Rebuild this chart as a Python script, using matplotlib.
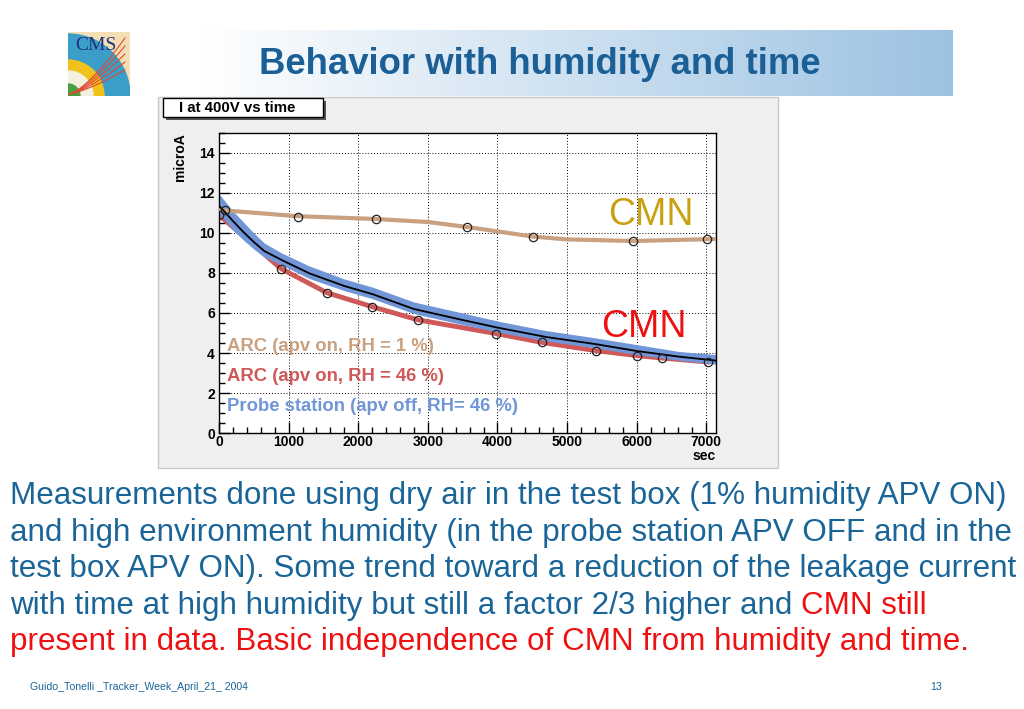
import matplotlib
matplotlib.use('Agg')
import matplotlib.pyplot as plt
import numpy as np
from matplotlib.patches import Rectangle, Wedge

plt.rcParams['font.family'] = ['Liberation Sans', 'DejaVu Sans']

W, H = 1024, 709

# --- data ---
tan_x = [82, 1135, 2251, 3567, 4515, 5947, 7012]
tan_y = [11.15, 10.8, 10.7, 10.32, 9.81, 9.6, 9.71]
tan_line_x = [0, 1135, 2251, 3000, 3567, 4515, 5000, 5947, 7140]
tan_line_y = [11.15, 10.84, 10.7, 10.55, 10.3, 9.82, 9.68, 9.6, 9.7]

red_x = [0, 890, 1545, 2195, 2855, 3984, 4639, 5409, 6007, 6360, 7020]
red_y = [10.9, 8.22, 7.02, 6.32, 5.66, 4.97, 4.53, 4.12, 3.87, 3.75, 3.55]

probe_x = [0, 60, 200, 350, 500, 650, 900, 1300, 1800, 2200, 2800, 3500, 4000,
           4700, 5400, 6000, 6600, 7140]
probe_fit = [11.35, 11.14, 10.6, 10.05, 9.55, 9.1, 8.65, 7.98, 7.35, 6.95, 6.2, 5.65,
             5.27, 4.8, 4.45, 4.1, 3.82, 3.62]
probe_hi = [11.95, 11.7, 11.1, 10.55, 10.0, 9.5, 9.0, 8.35, 7.7, 7.3, 6.55, 6.0,
            5.6, 5.12, 4.76, 4.42, 4.08, 3.92]
probe_lo = [10.9, 10.75, 10.15, 9.65, 9.2, 8.8, 8.4, 7.72, 7.12, 6.72, 5.97, 5.42,
            5.05, 4.6, 4.26, 3.92, 3.64, 3.44]

x_ticks = [0, 1000, 2000, 3000, 4000, 5000, 6000, 7000]
y_ticks = [0, 2, 4, 6, 8, 10, 12, 14]

legend_labels = ['ARC (apv on, RH = 1 %)', 'ARC (apv on, RH = 46 %)',
                 'Probe station (apv off, RH= 46 %)']

body_lines = ['Measurements done using dry air in the test box (1% humidity APV ON)',
              'and high environment humidity (in the probe station APV OFF and in the',
              'test box APV ON). Some trend toward a reduction of the leakage current',
              'with time at high humidity but still a factor 2/3 higher and ']
body_red = ['CMN still', 'present in data. Basic independence of CMN from humidity and time.']

TAN = '#c9a080'
RED = '#cf5858'
BLUE = '#7096d8'
TXT = '#1a6598'
BODY_FS = 22.6


def fx(x):
    return x / W


def fy(y):
    return 1 - y / H


def rect(x0, y0, x1, y1):
    return [fx(x0), fy(y1), (x1 - x0) / W, (y1 - y0) / H]


fig = plt.figure(figsize=(W / 100, H / 100), dpi=100)
fig.patch.set_facecolor('white')

# background layer in pixel coords
bg = fig.add_axes([0, 0, 1, 1], zorder=-5)
bg.set_xlim(0, W)
bg.set_ylim(H, 0)
bg.axis('off')

# title banner with gradient
ban = fig.add_axes(rect(200, 30, 953, 96), zorder=-4)
ramp = np.linspace(0, 1, 256)
c0 = np.array([1.0, 1.0, 1.0])
c1 = np.array([0x9c, 0xc2, 0xe2]) / 255
grad = c0[None, :] * (1 - ramp[:, None]) + c1[None, :] * ramp[:, None]
ban.imshow(grad[None, :, :], aspect='auto', extent=[0, 1, 0, 1])
ban.axis('off')

fig.text(fx(540), fy(65), 'Behavior with humidity and time', fontsize=26.3,
         fontweight='bold', color='#1a5f96', ha='center', va='center')

# CMS logo (simplified)
logo = fig.add_axes(rect(68, 32, 130, 96), zorder=-3)
logo.set_xlim(0, 62)
logo.set_ylim(0, 64)
logo.axis('off')
logo.add_patch(Rectangle((0, 0), 62, 64, color='#f2dfb6'))
logo.add_patch(Wedge((0, 0), 62, 0, 90, color='#3a9ec8'))
logo.add_patch(Wedge((0, 0), 36, 0, 90, color='#f2c21c'))
logo.add_patch(Wedge((0, 0), 25, 0, 90, color='#f4f0e0'))
logo.add_patch(Wedge((0, 0), 12, 0, 90, color='#4aa040'))
for k in range(5):
    t = np.linspace(0, 1, 30)
    logo.plot(2 + 55 * t, 2 + (18 + 8 * k) * t ** 1.4 + 6 * t, color='#e04830', lw=0.8)
logo.text(28, 50, 'CMS', fontsize=14, color='#203080', ha='center', va='center',
          family=['Liberation Serif', 'DejaVu Serif'])

# ROOT canvas and pad
bg.add_patch(Rectangle((155, 93), 655, 377, facecolor='white', edgecolor='none'))
bg.add_patch(Rectangle((158, 97), 620, 371, facecolor='#efefef', edgecolor='#c8c8c8', lw=1))

# title box
bg.add_patch(Rectangle((166, 101), 160, 19, facecolor='#555555', edgecolor='none'))
bg.add_patch(Rectangle((163, 98), 160, 19, facecolor='white', edgecolor='black', lw=1))
fig.text(fx(179), fy(108), 'I at 400V vs time', fontsize=10.8, fontweight='bold',
         ha='left', va='center')

# --- the plot ---
ax = fig.add_axes(rect(219, 133, 716, 433))
ax.set_facecolor('white')
ax.set_xlim(0, 7140)
ax.set_ylim(0, 15)

ax.fill_between(probe_x, probe_lo, probe_hi, color=BLUE, lw=0, zorder=2)
ax.plot(tan_line_x, tan_line_y, color=TAN, lw=3, zorder=3)
ax.plot(red_x, red_y, color=RED, lw=3.5, zorder=1.9)
ax.plot(probe_x, probe_fit, color='black', lw=1.3, zorder=4)
ax.plot(tan_x, tan_y, 'o', mfc='none', mec='#222222', ms=6, mew=0.9, zorder=5)
ax.plot(red_x, red_y, 'o', mfc='none', mec='#222222', ms=6, mew=0.9, zorder=5)

ax.set_xticks(x_ticks)
ax.set_yticks(y_ticks)
ax.set_xticks(np.arange(0, 7141, 200), minor=True)
ax.set_yticks(np.arange(0, 15.01, 0.5), minor=True)
ax.tick_params(which='major', direction='in', length=8, width=1, labelsize=10, pad=3)
ax.tick_params(axis='x', which='major', pad=1.5)
ax.tick_params(which='minor', direction='in', length=4, width=1)
for lab in ax.get_xticklabels() + ax.get_yticklabels():
    lab.set_fontweight('bold')
ax.grid(True, which='major', color='black', linestyle=(0, (1, 2)), lw=0.7)
for s in ax.spines.values():
    s.set_linewidth(1)

for lab, col, yv in zip(legend_labels, [TAN, RED, BLUE], [4.33, 2.82, 1.31]):
    ax.text(115, yv, lab, color=col, fontsize=13.3, fontweight='bold', va='center',
            ha='left', zorder=6)

fig.text(fx(180), fy(157), 'microA', rotation=90, fontsize=10, fontweight='bold',
         ha='center', va='center')
fig.text(fx(716), fy(456), 'sec', fontsize=10, fontweight='bold', ha='right', va='center')

fig.text(fx(651), fy(215), 'CMN', fontsize=27, color='#c8a010', ha='center', va='center')
fig.text(fx(644), fy(327), 'CMN', fontsize=27, color='#ee1111', ha='center', va='center')

# --- body text ---
base_y = [504, 541, 577, 614, 650]
for i, line in enumerate(body_lines):
    fig.text(fx(10), fy(base_y[i]), line, fontsize=BODY_FS, color=TXT, ha='left',
             va='baseline')
fig.canvas.draw()
rend = fig.canvas.get_renderer()
t4 = fig.texts[-1]
bb = t4.get_window_extent(renderer=rend)
fig.text(bb.x1 / W, fy(base_y[3]), body_red[0], fontsize=BODY_FS, color='#ee1111',
         ha='left', va='baseline')
fig.text(fx(10), fy(base_y[4]), body_red[1], fontsize=BODY_FS, color='#ee1111',
         ha='left', va='baseline')

fig.text(fx(30), fy(687), 'Guido_Tonelli _Tracker_Week_April_21_ 2004', fontsize=7.6,
         color=TXT, ha='left', va='center')
fig.text(fx(930), fy(687), '13', fontsize=7.6, color=TXT, ha='left', va='center')

fig.savefig('out.png', dpi=100)
